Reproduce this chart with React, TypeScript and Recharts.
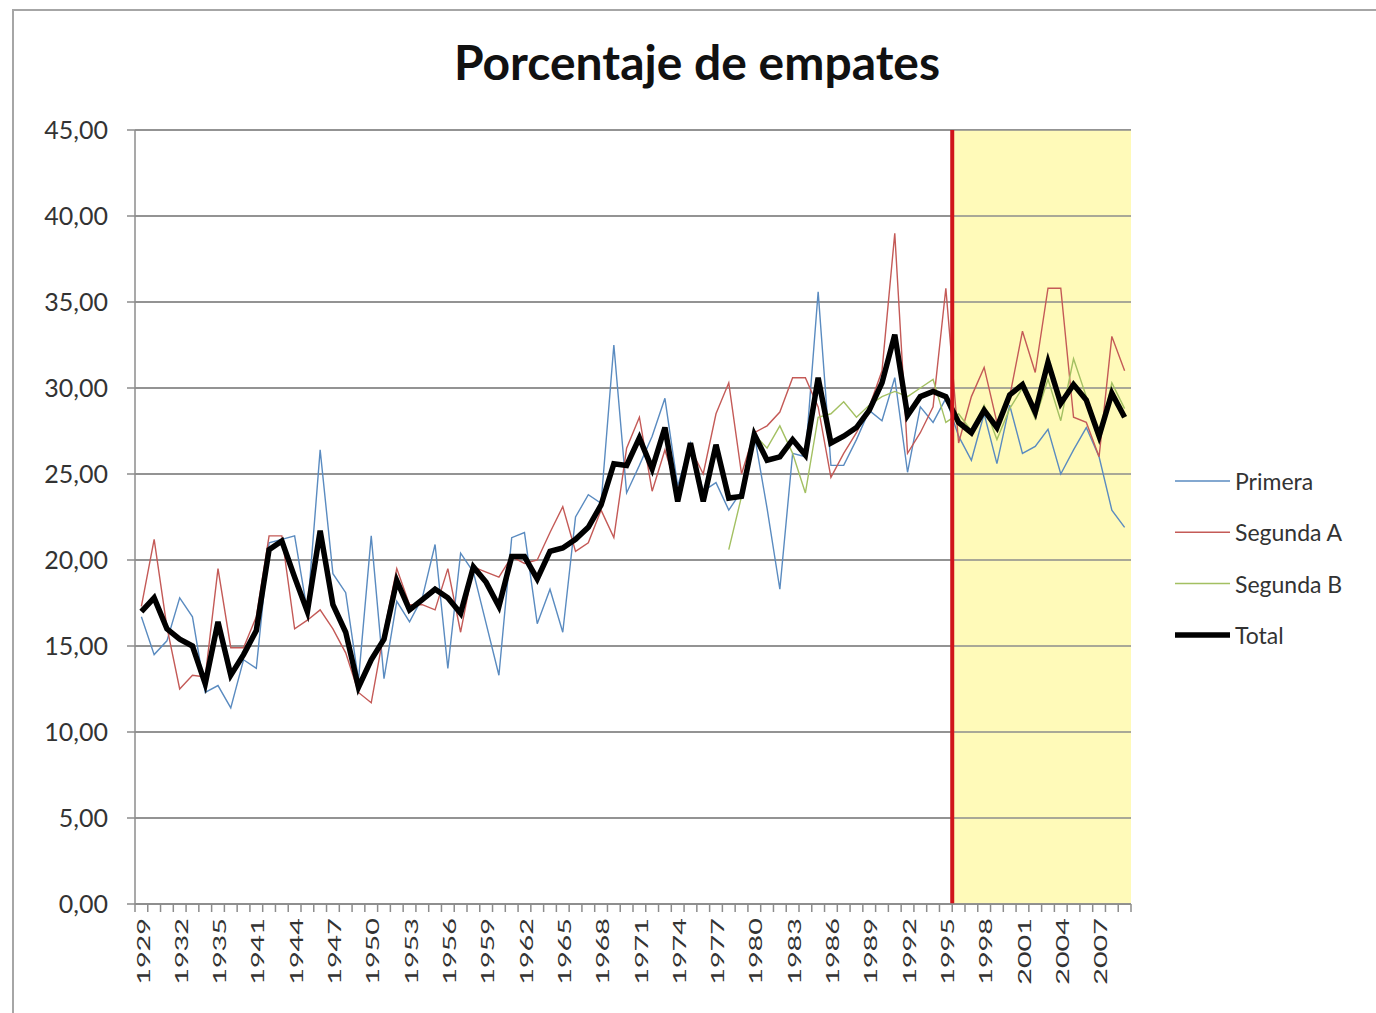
import React from 'react';
import {
  LineChart,
  Line,
  XAxis,
  YAxis,
  CartesianGrid,
  ReferenceArea,
  ReferenceLine,
} from 'recharts';

const FONT = 'Lato, "Open Sans", sans-serif';

const years = [
  1929, 1930, 1931, 1932, 1933, 1934, 1935, 1936,
  1940, 1941, 1942, 1943, 1944, 1945, 1946, 1947, 1948, 1949,
  1950, 1951, 1952, 1953, 1954, 1955, 1956, 1957, 1958, 1959,
  1960, 1961, 1962, 1963, 1964, 1965, 1966, 1967, 1968, 1969,
  1970, 1971, 1972, 1973, 1974, 1975, 1976, 1977, 1978, 1979,
  1980, 1981, 1982, 1983, 1984, 1985, 1986, 1987, 1988, 1989,
  1990, 1991, 1992, 1993, 1994, 1995,
  1996, 1997, 1998, 1999, 2000, 2001, 2002, 2003, 2004, 2005, 2006, 2007, 2008, 2009,
];

const primera = [
  16.7, 14.5, 15.3, 17.8, 16.7, 12.3, 12.7, 11.4,
  14.2, 13.7, 21.0, 21.2, 21.4, 17.0, 26.4, 19.2, 18.1, 13.0,
  21.4, 13.1, 17.6, 16.4, 17.8, 20.9, 13.7, 20.4, 19.3, 16.3,
  13.3, 21.3, 21.6, 16.3, 18.3, 15.8, 22.5, 23.8, 23.3, 32.5,
  23.9, 25.5, 27.2, 29.4, 24.3, 26.8, 24.0, 24.5, 22.9, 24.0,
  27.3, 23.0, 18.3, 26.2, 26.0, 35.6, 25.5, 25.5, 27.0, 28.7,
  28.1, 30.6, 25.1, 28.9, 28.0, 29.4,
  27.2, 25.8, 28.5, 25.6, 29.0, 26.2, 26.6, 27.6, 25.0, 26.4, 27.7, 26.0, 22.9, 21.9,
];

const segundaA = [
  17.3, 21.2, 16.1, 12.5, 13.3, 13.2, 19.5, 14.9,
  14.9, 16.7, 21.4, 21.4, 16.0, 16.5, 17.1, 16.0, 14.6, 12.3,
  11.7, 15.8, 19.5, 17.4, 17.4, 17.1, 19.5, 15.8, 19.6, 19.3,
  19.0, 20.2, 19.8, 20.0, 21.6, 23.1, 20.5, 21.0, 22.9, 21.3,
  26.5, 28.3, 24.0, 26.4, 24.0, 26.5, 25.0, 28.5, 30.3, 25.0,
  27.4, 27.8, 28.6, 30.6, 30.6, 28.9, 24.8, 26.2, 27.4, 28.9,
  31.0, 39.0, 26.2, 27.4, 28.9, 35.8,
  26.8, 29.5, 31.2, 28.0, 29.5, 33.3, 30.9, 35.8, 35.8, 28.3, 28.0, 26.0, 33.0, 31.0,
];

// Segunda B starts in 1978
const segundaBFirstYear = 1978;
const segundaB = [
  20.6, 23.7,
  27.3, 26.5, 27.8, 26.2, 23.9, 28.3, 28.5, 29.2, 28.3, 29.0,
  29.5, 29.8, 29.5, 30.0, 30.5, 28.0,
  28.5, 27.5, 29.0, 27.0, 28.8, 30.0, 28.2, 30.5, 28.1, 31.7, 29.5, 27.0, 30.3, 28.8,
];

const total = [
  17.0, 17.8, 16.0, 15.4, 15.0, 12.8, 16.4, 13.3,
  14.5, 15.9, 20.6, 21.1, 19.0, 17.0, 21.7, 17.4, 15.8, 12.6,
  14.2, 15.4, 18.8, 17.1, 17.7, 18.3, 17.8, 16.9, 19.6, 18.7,
  17.3, 20.2, 20.2, 18.9, 20.5, 20.7, 21.2, 21.9, 23.2, 25.6,
  25.5, 27.1, 25.3, 27.7, 23.4, 26.8, 23.4, 26.7, 23.6, 23.7,
  27.3, 25.8, 26.0, 27.0, 26.1, 30.6, 26.8, 27.2, 27.7, 28.7,
  30.3, 33.1, 28.4, 29.5, 29.8, 29.5,
  28.0, 27.4, 28.7, 27.7, 29.6, 30.2, 28.6, 31.5, 29.1, 30.2, 29.3, 27.2, 29.7, 28.3,
];

const seriesNames = ['Primera', 'Segunda A', 'Segunda B', 'Total'];
const seriesColors = ['#5a8bc0', '#c45a57', '#a3c062', '#000000'];
const yTicks = [0, 5, 10, 15, 20, 25, 30, 35, 40, 45];
const markerYear = 1995; // red line after this season
const labelEvery = 3;

const bStart = years.indexOf(segundaBFirstYear);
const data = years.map((y, i) => ({
  idx: i,
  year: y,
  primera: primera[i],
  segundaA: segundaA[i],
  segundaB: i >= bStart ? segundaB[i - bStart] : null,
  total: total[i],
}));

const xTicks = years.map((_, i) => i - 0.5).concat([years.length - 0.5]);
const markerIdx = years.indexOf(markerYear) + 0.5;

const HALF_STEP = 6.38;

const XTick = (props: any) => {
  const { x, y, payload } = props;
  const i = Math.round(payload.value + 0.5);
  const showLabel = i < years.length && i % labelEvery === 0;
  return (
    <g>
      <line x1={x} y1={y} x2={x} y2={y + 8} stroke="#8c8c8c" strokeWidth={1.5} />
      {showLabel ? (
        <text
          transform={`translate(${x + HALF_STEP + 1},${y + 14}) rotate(-90) scale(1.6,1)`}
          textAnchor="end"
          dominantBaseline="central"
          fontFamily={FONT}
          fontSize={18}
          fill="#333"
        >
          {years[i]}
        </text>
      ) : null}
    </g>
  );
};

const LegendBox = () => (
  <svg
    width={200}
    height={200}
    style={{ position: 'absolute', left: 1172, top: 460, display: 'block' }}
  >
    {seriesNames.map((name, k) => {
      const yy = 21 + k * 51.3;
      return (
        <g key={name}>
          <line
            x1={3}
            x2={58}
            y1={yy}
            y2={yy}
            stroke={seriesColors[k]}
            strokeWidth={name === 'Total' ? 5.5 : 1.5}
          />
          <text
            x={63}
            y={yy}
            dominantBaseline="central"
            fontFamily={FONT}
            fontSize={23}
            fill="#333"
          >
            {name}
          </text>
        </g>
      );
    })}
  </svg>
);

export default function App() {
  return (
    <div
      style={{
        position: 'absolute',
        left: 0,
        top: 0,
        width: 1376,
        height: 1013,
        background: '#fff',
        overflow: 'hidden',
      }}
    >
      <div
        style={{
          position: 'absolute',
          left: 12,
          top: 9,
          width: 1400,
          height: 1010,
          border: '2px solid #a6a6a6',
          boxSizing: 'border-box',
        }}
      />
      <div
        style={{
          position: 'absolute',
          left: 9,
          top: 32,
          width: 1376,
          textAlign: 'center',
          fontFamily: FONT,
          fontWeight: 700,
          fontSize: 48,
          lineHeight: '60px',
          color: '#111',
        }}
      >
        Porcentaje de empates
      </div>
      <div style={{ position: 'absolute', left: 0, top: 0 }}>
        <LineChart
          width={1376}
          height={1013}
          data={data}
          margin={{ top: 130, right: 245, bottom: 9, left: 75 }}
        >
          <CartesianGrid vertical={false} stroke="#8c8c8c" strokeWidth={1.5} />
          <ReferenceArea
            x1={markerIdx}
            x2={years.length - 0.5}
            y1={0}
            y2={45}
            fill="#fffab9"
            fillOpacity={1}
            stroke="none"
          />
          {yTicks.map((v) => (
            <ReferenceLine key={v} y={v} stroke="#8c8c8c" strokeWidth={1.5} />
          ))}
          <XAxis
            dataKey="idx"
            type="number"
            domain={[-0.5, years.length - 0.5]}
            ticks={xTicks}
            interval={0}
            tick={<XTick />}
            tickLine={false}
            tickSize={0}
            tickMargin={0}
            height={100}
            axisLine={{ stroke: '#8c8c8c', strokeWidth: 1.5 }}
            allowDataOverflow
          />
          <YAxis
            type="number"
            domain={[0, 45]}
            ticks={yTicks}
            interval={0}
            width={60}
            tickSize={8}
            tickMargin={19}
            tickFormatter={(v: number) => v.toFixed(2).replace('.', ',')}
            tick={{ fontFamily: FONT, fontSize: 25, fill: '#333' }}
            tickLine={{ stroke: '#8c8c8c', strokeWidth: 1.5 }}
            axisLine={{ stroke: '#8c8c8c', strokeWidth: 1.5 }}
          />
          <Line
            type="linear"
            dataKey="primera"
            name={seriesNames[0]}
            stroke={seriesColors[0]}
            strokeWidth={1.4}
            dot={false}
            activeDot={false}
            isAnimationActive={false}
          />
          <Line
            type="linear"
            dataKey="segundaA"
            name={seriesNames[1]}
            stroke={seriesColors[1]}
            strokeWidth={1.4}
            dot={false}
            activeDot={false}
            isAnimationActive={false}
          />
          <Line
            type="linear"
            dataKey="segundaB"
            name={seriesNames[2]}
            stroke={seriesColors[2]}
            strokeWidth={1.4}
            dot={false}
            activeDot={false}
            connectNulls={false}
            isAnimationActive={false}
          />
          <Line
            type="linear"
            dataKey="total"
            name={seriesNames[3]}
            stroke={seriesColors[3]}
            strokeWidth={5.5}
            dot={false}
            activeDot={false}
            isAnimationActive={false}
          />
          <ReferenceLine x={markerIdx} stroke="#d0141a" strokeWidth={4} />
        </LineChart>
      </div>
      <LegendBox />
    </div>
  );
}
